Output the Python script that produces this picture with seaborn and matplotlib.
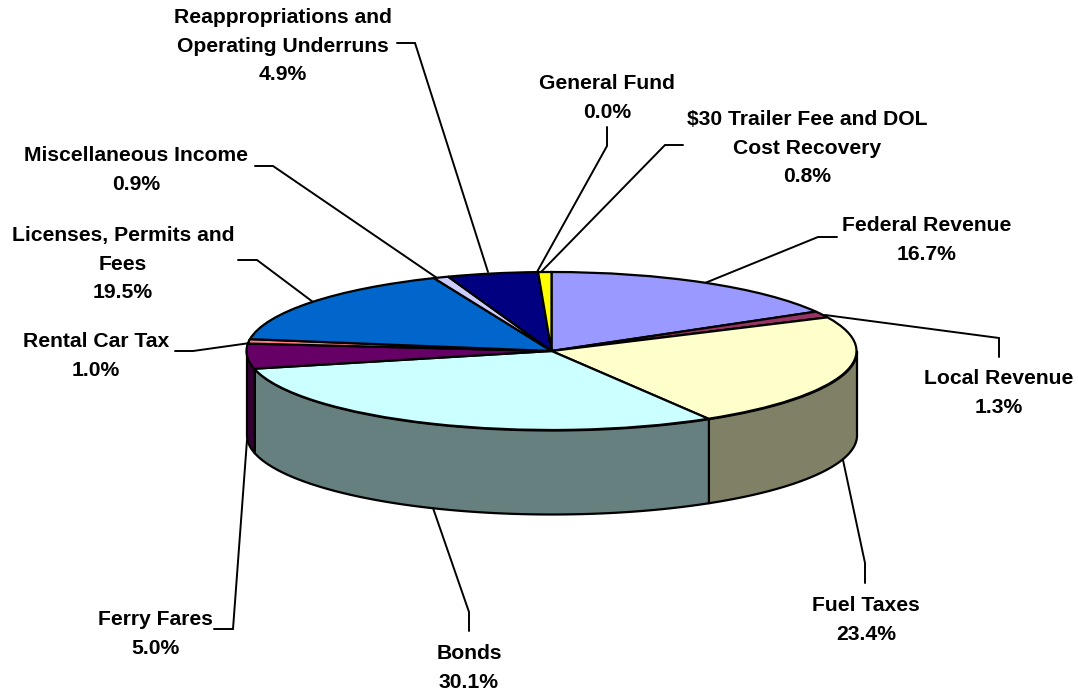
import numpy as np
import matplotlib
matplotlib.use('Agg')
import matplotlib.pyplot as plt
import seaborn as sns

# データ（ラベルの表示値と、図から読み取ったスライスの実際の割合）
categories = ['Federal Revenue', 'Local Revenue', 'Fuel Taxes', 'Bonds', 'Ferry Fares',
              'Rental Car Tax', 'Licenses, Permits and\nFees', 'Miscellaneous Income',
              'Reappropriations and\nOperating Underruns', 'General Fund',
              '$30 Trailer Fee and DOL\nCost Recovery']
label_pct = [16.7, 1.3, 23.4, 30.1, 5.0, 1.0, 19.5, 0.9, 4.9, 0.0, 0.8]
slice_shares = [16.7, 1.3, 23.4, 30.0, 5.1, 0.9, 16.3, 0.8, 4.8, 0.0, 0.7]
slice_colors = ['#9999FF', '#993366', '#FFFFCC', '#CCFFFF', '#660066', '#FF8080',
                '#0066CC', '#CCCCFF', '#000080', '#FF00FF', '#FFFF00']

# ラベル位置（中心x, 1行目の中心y）と引き出し線
label_pos = [(927, 224), (998.5, 377), (866, 604), (469, 652), (155, 618), (96, 340),
             (123, 234), (136, 154), (283, 16), (607, 82), (807.5, 118)]
leaders = [[(837, 237), (818, 237), (705, 283)],
           [(999, 357), (999, 338), (825, 315)],
           [(865, 583), (865, 563), (843, 460)],
           [(469, 631), (469, 612), (433, 508)],
           [(214, 629), (233, 629), (247, 440)],
           [(175, 351), (193, 351), (250, 343)],
           [(238, 260), (257, 260), (313, 302)],
           [(255, 166), (273, 166), (437, 278)],
           [(397, 43), (415, 43), (488, 272)],
           [(607, 127), (607, 146), (537, 272)],
           [(683, 145), (665, 145), (541, 272)]]

W, H = 1078, 692
cx, cy, rx, ry, depth = 551.5, 351, 305, 79, 84
LINE_W = 1.6

sns.set_theme(style='white')
plt.rcParams['font.family'] = ['Liberation Sans', 'DejaVu Sans']

fig = plt.figure(figsize=(W / 100, H / 100), dpi=100, facecolor='white')
ax = fig.add_axes([0, 0, 1, 1])
ax.set_xlim(0, W)
ax.set_ylim(H, 0)
ax.axis('off')

palette = sns.color_palette(slice_colors)

# 側面（手前半分だけ見える）
edges = np.cumsum([0] + slice_shares) / sum(slice_shares) * 360
for i, color in enumerate(palette):
    start, end = max(edges[i], 90), min(edges[i + 1], 270)
    if end <= start:
        continue
    theta = np.radians(np.linspace(start, end, 80))
    x = cx + rx * np.sin(theta)
    y = cy - ry * np.cos(theta)
    ax.fill_between(x, y, y + depth, facecolor=np.array(color) * 0.5,
                    edgecolor='black', linewidth=LINE_W)

# 引き出し線
for pts in leaders:
    xs, ys = zip(*pts)
    ax.plot(xs, ys, color='black', linewidth=1.4, solid_joinstyle='miter')

# 上面は横長のaxesに円グラフを描いて楕円にする
pie_ax = fig.add_axes([(cx - rx) / W, 1 - (cy + ry) / H, 2 * rx / W, 2 * ry / H])
wedges, _ = pie_ax.pie(slice_shares, colors=palette, startangle=90, counterclock=False,
                       wedgeprops=dict(edgecolor='black', linewidth=LINE_W))
pie_ax.set_xlim(-1, 1)
pie_ax.set_ylim(-1, 1)
pie_ax.set_aspect('auto')
for w in wedges:
    w.set_clip_on(False)

# ラベル
for name, pct, (x, y) in zip(categories, label_pct, label_pos):
    lines = name.split('\n') + [f'{pct:.1f}%']
    for k, line in enumerate(lines):
        ax.text(x, y + k * 28.6 + 7, line, ha='center', va='baseline',
                fontsize=15.2, fontweight='bold', color='black')

fig.savefig('out.png', dpi=100, facecolor='white')
plt.close(fig)
